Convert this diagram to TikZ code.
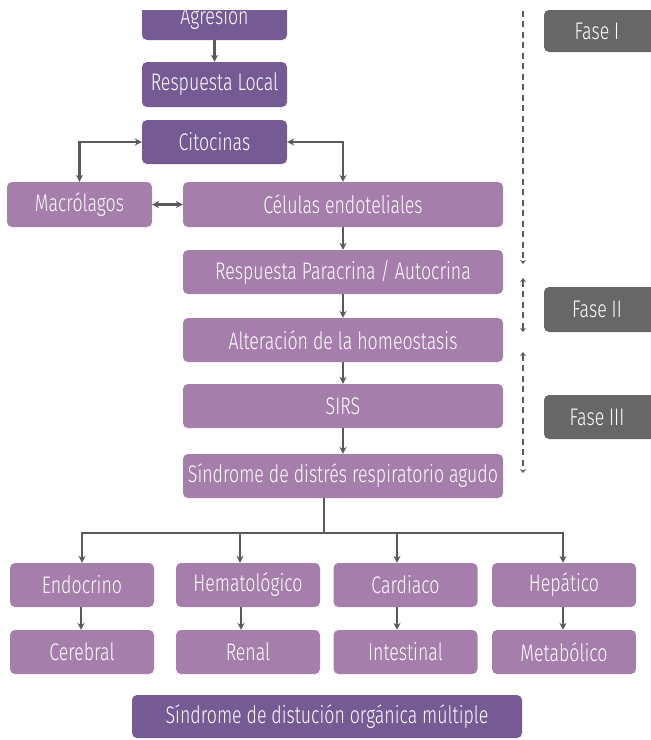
\documentclass[tikz,border=0pt]{standalone}
\usepackage{fontspec}
\setmainfont{Fira Sans}[UprightFont=* Light, FakeStretch=0.74]
\usetikzlibrary{arrows.meta}
\definecolor{darkpurple}{HTML}{765A94}
\definecolor{lightpurple}{HTML}{A67EAB}
\definecolor{phasegray}{HTML}{676767}
\definecolor{linkgray}{HTML}{5A5A5A}
\tikzset{
  box/.style={rectangle, rounded corners=5pt, inner sep=0pt, text=white,
    font=\fontsize{24}{26}\selectfont},
  darkbox/.style={box, fill=darkpurple},
  lightbox/.style={box, fill=lightpurple},
  link/.style={draw=linkgray, line width=2.2pt, -{Stealth[length=7pt,width=7pt]}},
  twoway/.style={link, {Stealth[length=7pt,width=7pt]}-{Stealth[length=7pt,width=7pt]}},
  phaseline/.style={draw=linkgray, line width=2pt, dash pattern=on 6pt off 4.5pt},
  phasetip/.style={{Stealth[length=4pt,width=6pt]}-{Stealth[length=4pt,width=6pt]}},
  phaselabel/.style={text=white, font=\fontsize{24}{26}\selectfont, inner sep=0pt},
}
\begin{document}
\begin{tikzpicture}[x=1pt, y=-1pt]
\useasboundingbox (0,0) rectangle (651,740);
\clip (0,10) rectangle (651,740);

% upper chain
\node[darkbox, minimum width=145pt, minimum height=45pt] (agr) at (214.5,17.5) {Agresión};
\node[darkbox, minimum width=145pt, minimum height=45pt] (loc) at (214.5,84.5) {Respuesta Local};
\node[darkbox, minimum width=145pt, minimum height=44pt] (cit) at (214.5,142) {Citocinas};
\node[lightbox, minimum width=145pt, minimum height=45pt] (mac) at (79.5,204.5) {Macrólagos};
\node[lightbox, minimum width=320pt, minimum height=45pt] (cel) at (343,204.5) {Células endoteliales};
\node[lightbox, minimum width=320pt, minimum height=44pt] (par) at (343,272) {Respuesta Paracrina / Autocrina};
\node[lightbox, minimum width=320pt, minimum height=44pt] (alt) at (343,340) {Alteración de la homeostasis};
\node[lightbox, minimum width=320pt, minimum height=44pt] (sirs) at (343,406) {SIRS};
\node[lightbox, minimum width=320pt, minimum height=44pt] (sdra) at (343,476) {Síndrome de distrés respiratorio agudo};

% organ systems
\foreach \nm/\cx/\txt in {endo/82/Endocrino, hema/248/Hematológico, card/405.5/Cardiaco, hepa/564/Hepático}
  \node[lightbox, minimum width=144pt, minimum height=44pt] (\nm) at (\cx,585) {\txt};
\foreach \nm/\cx/\txt in {cere/82/Cerebral, rena/248/Renal, inte/405.5/Intestinal, meta/564/Metabólico}
  \node[lightbox, minimum width=144pt, minimum height=44pt] (\nm) at (\cx,652) {\txt};

\node[darkbox, minimum width=390pt, minimum height=43pt] (sdom) at (327,716.5) {Síndrome de distución orgánica múltiple};

% phase labels
\fill[phasegray, rounded corners=5pt] (544,10) rectangle (665,52);
\fill[phasegray, rounded corners=5pt] (544,287) rectangle (665,332);
\fill[phasegray, rounded corners=5pt] (544,395) rectangle (665,439);
\node[phaselabel] (f1) at (597,31) {Fase I};
\node[phaselabel] (f2) at (597,309.5) {Fase II};
\node[phaselabel] (f3) at (597,417) {Fase III};

% connectors
\draw[link] (agr) -- (loc);
\draw[twoway] (mac.north) |- (cit.west);
\draw[twoway] (cit.east) -| (cel.north);
\draw[twoway] (mac) -- (cel);
\draw[link] (cel) -- (par);
\draw[link] (par) -- (alt);
\draw[link] (alt) -- (sirs);
\draw[link] (sirs) -- (sdra);

\coordinate (bus) at (324,533);
\draw[draw=linkgray, line width=2.2pt] (sdra.south -| bus) -- (bus);
\foreach \nm/\dx in {endo/82, hema/240, card/397, hepa/563}
  \draw[link] (bus) -| (\dx,0 |- \nm.north);
\foreach \up/\dn/\dx in {endo/cere/81, hema/rena/241, card/inte/397, hepa/meta/563}
  \draw[link] (\dx,0 |- \up.south) -- (\dx,0 |- \dn.north);

% phase span markers
\coordinate (p0) at (523,0);
\coordinate (p1) at (523,264);
\coordinate (p2) at (523,278);
\coordinate (p3) at (523,332);
\coordinate (p4) at (523,352);
\coordinate (p5) at (523,473);
\draw[phaseline, -{Stealth[length=4pt,width=6pt]}] (p0) -- (p1);
\draw[phaseline, phasetip] (p2) -- (p3);
\draw[phaseline, phasetip] (p4) -- (p5);
\end{tikzpicture}
\end{document}
